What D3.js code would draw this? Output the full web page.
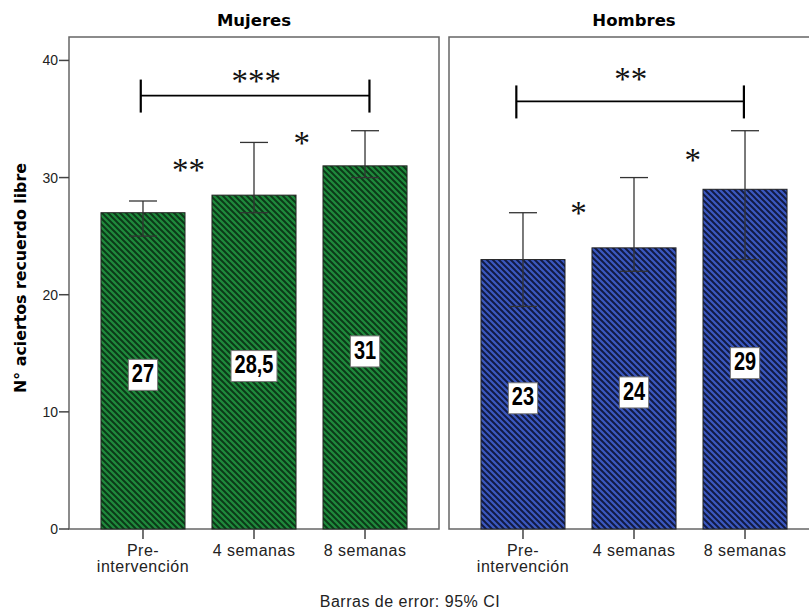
<html>
<head>
<meta charset="utf-8">
<script src="https://d3js.org/d3.v7.min.js"></script>
<style>
    body { margin: 0; background: #fff; }
    text { font-family: "Liberation Sans", Arial, sans-serif; }
    .title { font-family: "DejaVu Sans", sans-serif; font-weight: bold; font-size: 16.5px; }
    .ylab { font-family: "DejaVu Sans", sans-serif; font-weight: bold; font-size: 15.8px; }
    .tick { font-size: 14px; fill: #222; }
    .xlab { font-size: 16px; letter-spacing: 0.5px; fill: #222; }
    .star { font-family: "Liberation Serif", "Times New Roman", serif; font-size: 33px; fill: #111; }
    .val { font-weight: bold; font-size: 20px; }
</style>
</head>
<body>
<svg id="chart" width="809" height="612"></svg>
<script>
// data
var categories = ["Pre-intervención", "4 semanas", "8 semanas"];
var groups = ["Mujeres", "Hombres"];
var mujeresMean = [27, 28.5, 31];
var mujeresLow = [25, 27, 30];
var mujeresHigh = [28, 33, 34];
var hombresMean = [23, 24, 29];
var hombresLow = [19, 22, 23];
var hombresHigh = [27, 30, 34];
var yTicks = [0, 10, 20, 30, 40];

// significance marks: label, position (in category index units), level (y units)
var mujeresStars = [["**", 0.41, 31.1], ["*", 1.43, 33.4], ["***", 1.02, 38.7]];
var hombresStars = [["*", 0.5, 27.4], ["*", 1.53, 31.9], ["**", 0.97, 38.8]];
// bracket: from index, to index, level
var mujeresBracket = [-0.02, 2.04, 37];
var hombresBracket = [-0.06, 1.99, 36.5];

var svg = d3.select("#chart");
var plotTop = 37, plotBottom = 529, panelW = 370;
var panelX = [69, 449];

var y = d3.scaleLinear().domain([0, 42]).range([plotBottom, plotTop]);
var x = d3.scaleBand().domain(categories).range([0, panelW])
    .paddingInner(0.243).paddingOuter(0.288);

// hatch patterns
var defs = svg.append("defs");
function hatch(id, bg, fg) {
    var p = defs.append("pattern").attr("id", id)
        .attr("patternUnits", "userSpaceOnUse")
        .attr("width", 6).attr("height", 6);
    p.append("rect").attr("width", 6).attr("height", 6).attr("fill", bg);
    p.append("path").attr("d", "M-1,-1 L7,7 M-1,5 L1,7 M5,-1 L7,1")
        .attr("stroke", fg).attr("stroke-width", 2);
}
hatch("hGreen", "#1f8a3c", "#0b3a18");
hatch("hBlue", "#3b58c0", "#111a44");

var panels = [
    {name: groups[0], mean: mujeresMean, low: mujeresLow, high: mujeresHigh,
     fill: "url(#hGreen)", stars: mujeresStars, bracket: mujeresBracket},
    {name: groups[1], mean: hombresMean, low: hombresLow, high: hombresHigh,
     fill: "url(#hBlue)", stars: hombresStars, bracket: hombresBracket}
];

function fmt(v) { return String(v).replace(".", ","); }

panels.forEach(function(pd, k) {
    var g = svg.append("g").attr("transform", "translate(" + panelX[k] + ",0)");
    var cx = function(i) { return x(categories[0]) + x.bandwidth() / 2 + i * x.step(); };

    // title
    g.append("text").attr("class", "title")
        .attr("x", panelW / 2).attr("y", 26)
        .attr("text-anchor", "middle").text(pd.name);

    // frame
    g.append("rect").attr("x", 0).attr("y", plotTop)
        .attr("width", panelW).attr("height", plotBottom - plotTop)
        .attr("fill", "none").attr("stroke", "#666").attr("stroke-width", 1.5);

    // bars
    g.selectAll(".bar").data(pd.mean).enter().append("rect")
        .attr("x", function(d, i) { return x(categories[i]); })
        .attr("y", function(d) { return y(d); })
        .attr("width", x.bandwidth())
        .attr("height", function(d) { return y(0) - y(d); })
        .attr("fill", pd.fill).attr("stroke", "#222").attr("stroke-width", 1);

    // error bars
    var eb = g.selectAll(".err").data(pd.mean).enter().append("g")
        .attr("stroke", "#333").attr("stroke-width", 1.3);
    eb.append("line")
        .attr("x1", function(d, i) { return cx(i); })
        .attr("x2", function(d, i) { return cx(i); })
        .attr("y1", function(d, i) { return y(pd.low[i]); })
        .attr("y2", function(d, i) { return y(pd.high[i]); });
    eb.append("line")
        .attr("x1", function(d, i) { return cx(i) - 14; })
        .attr("x2", function(d, i) { return cx(i) + 14; })
        .attr("y1", function(d, i) { return y(pd.high[i]); })
        .attr("y2", function(d, i) { return y(pd.high[i]); });
    eb.append("line")
        .attr("x1", function(d, i) { return cx(i) - 14; })
        .attr("x2", function(d, i) { return cx(i) + 14; })
        .attr("y1", function(d, i) { return y(pd.low[i]); })
        .attr("y2", function(d, i) { return y(pd.low[i]); });

    // value labels
    var lab = g.selectAll(".lab").data(pd.mean).enter().append("g")
        .attr("transform", function(d, i) { return "translate(" + cx(i) + "," + (y(d / 2) + 4) + ")"; });
    lab.each(function(d) {
        var s = d3.select(this);
        var t = s.append("text").attr("class", "val")
            .attr("text-anchor", "middle")
            .attr("transform", "scale(1,1.3)")
            .attr("y", 5.5).text(fmt(d));
        var w = t.node().getComputedTextLength() + 7;
        s.insert("rect", "text").attr("x", -w / 2).attr("y", -15.5)
            .attr("width", w).attr("height", 31)
            .attr("fill", "#fff").attr("stroke", "#777").attr("stroke-width", 1);
    });

    // x axis ticks and labels
    var xt = g.selectAll(".xt").data(categories).enter().append("g")
        .attr("transform", function(d, i) { return "translate(" + cx(i) + "," + plotBottom + ")"; });
    xt.append("line").attr("y1", 0).attr("y2", 10).attr("stroke", "#444").attr("stroke-width", 1.5);
    xt.each(function(d) {
        var parts = d === "Pre-intervención" ? ["Pre-", "intervención"] : [d];
        d3.select(this).selectAll("text").data(parts).enter().append("text")
            .attr("class", "xlab").attr("text-anchor", "middle")
            .attr("y", function(p, j) { return 27 + j * 16; }).text(function(p) { return p; });
    });

    // significance bracket
    var b = pd.bracket, by = y(b[2]);
    var bg = g.append("g").attr("stroke", "#000");
    bg.append("line").attr("x1", cx(b[0])).attr("x2", cx(b[1]))
        .attr("y1", by).attr("y2", by).attr("stroke-width", 1.8);
    [b[0], b[1]].forEach(function(e) {
        bg.append("line").attr("x1", cx(e)).attr("x2", cx(e))
            .attr("y1", by - 16).attr("y2", by + 17).attr("stroke-width", 2.2);
    });

    // stars
    g.selectAll(".star").data(pd.stars).enter().append("text")
        .attr("class", "star").attr("text-anchor", "middle")
        .attr("x", function(d) { return cx(d[1]); })
        .attr("y", function(d) { return y(d[2]) + 16; })
        .text(function(d) { return d[0]; });
});

// y axis (left panel)
var ya = svg.append("g").attr("transform", "translate(" + panelX[0] + ",0)");
ya.selectAll(".yt").data(yTicks).enter().append("line")
    .attr("x1", -10).attr("x2", 0)
    .attr("y1", function(d) { return y(d); }).attr("y2", function(d) { return y(d); })
    .attr("stroke", "#444").attr("stroke-width", 1.5);
ya.selectAll(".ytl").data(yTicks).enter().append("text")
    .attr("class", "tick").attr("text-anchor", "end")
    .attr("x", -11).attr("y", function(d) { return y(d) + 5; })
    .text(function(d) { return d; });

svg.append("text").attr("class", "ylab")
    .attr("transform", "translate(26," + 278 + ") rotate(-90)")
    .attr("text-anchor", "middle").text("N° aciertos recuerdo libre");

svg.append("text").attr("class", "xlab")
    .attr("x", 410).attr("y", 607).attr("text-anchor", "middle")
    .text("Barras de error: 95% CI");
</script>
</body>
</html>
